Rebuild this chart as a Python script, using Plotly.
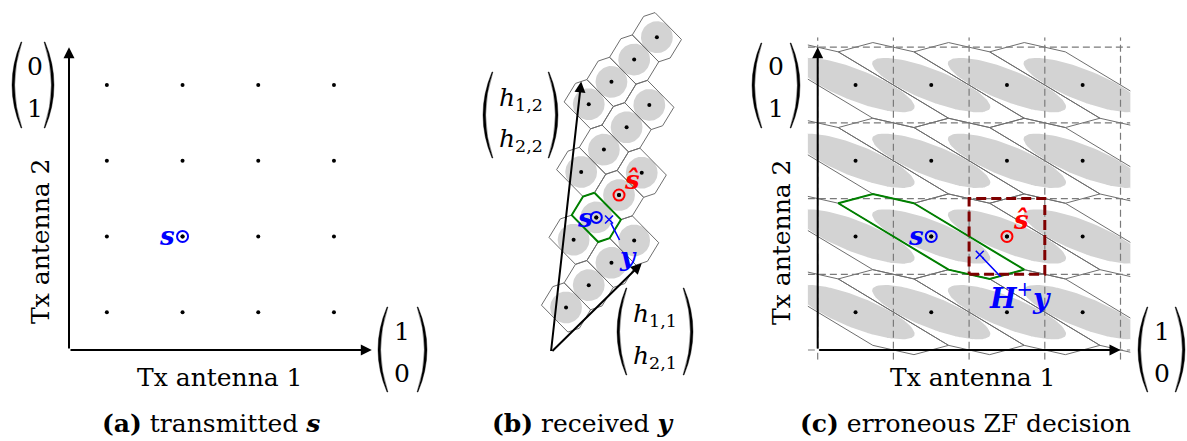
import numpy as np
import plotly.graph_objects as go

# ---------------- data ----------------
levels = [0.5, 1.5, 2.5, 3.5]            # PAM levels per Tx antenna
H = np.array([[0.300, 0.100],            # channel matrix, columns h1, h2
              [0.295, 0.895]])
s_tx = [1.5, 1.5]                        # transmitted symbol s
s_hat = [2.5, 1.5]                       # erroneous ZF decision
noise = [0.168, -0.028]                  # noise realisation n
noise_radius = 0.21                      # radius of the noise disc
zf_grid = [0, 1, 2, 3, 4]                # ZF decision boundaries
axis_len = 4

# ---------------- geometry ----------------
W, HPX = 1187, 441
U = 75.7  # pixels per unit
FONT = "DejaVu Serif"
GRAY = "#d3d3d3"
HEX = "#6e6e6e"

Hinv = np.linalg.inv(H)
pts = np.array([[a, b] for b in levels for a in levels])
y_rx = H @ np.array(s_tx) + np.array(noise)
zf_est = Hinv @ y_rx

# Voronoi cell of lattice H*Z^2 around origin
def clip_poly(poly, n, c):
    out = []
    for i in range(len(poly)):
        P, Q = poly[i], poly[(i + 1) % len(poly)]
        pin, qin = P @ n <= c, Q @ n <= c
        if pin:
            out.append(P)
        if pin != qin:
            t = (c - P @ n) / ((Q - P) @ n)
            out.append(P + t * (Q - P))
    return np.array(out)

cell = np.array([[-5, -5], [5, -5], [5, 5], [-5, 5]], float)
for k1 in range(-3, 4):
    for k2 in range(-3, 4):
        if k1 == 0 and k2 == 0:
            continue
        v = H @ np.array([k1, k2], float)
        cell = clip_poly(cell, v, v @ v / 2)

theta = np.linspace(0, 2 * np.pi, 90)
circle = noise_radius * np.vstack([np.cos(theta), np.sin(theta)])

def closed(poly):
    return np.vstack([poly, poly[:1]])

def join(polys):
    xs, ys = [], []
    for p in polys:
        xs += list(p[:, 0]) + [None]
        ys += list(p[:, 1]) + [None]
    return dict(x=xs, y=ys)

# ---------------- axes layout ----------------
panel_origin = {"a": (69, 350), "b": (550.9, 352.5), "c": (817.7, 350)}
panel_px = {"a": (0, 440), "b": (445, 735), "c": (740, 1187)}
axname = {"a": ("x", "y"), "b": ("x2", "y2"), "c": ("x4", "y4"), "cc": ("x3", "y3")}

layout_axes = {}
def make_axes(key, ox, oy, x0, x1, y0, y1):
    xn, yn = axname[key]
    xk = "xaxis" + xn[1:]
    yk = "yaxis" + yn[1:]
    layout_axes[xk] = dict(domain=[x0 / W, x1 / W], range=[(x0 - ox) / U, (x1 - ox) / U],
                           visible=False, anchor=yn, fixedrange=True)
    layout_axes[yk] = dict(domain=[1 - y1 / HPX, 1 - y0 / HPX], range=[(oy - y1) / U, (oy - y0) / U],
                           visible=False, anchor=xn, fixedrange=True)

for k in "abc":
    ox, oy = panel_origin[k]
    make_axes(k, ox, oy, panel_px[k][0], panel_px[k][1], 0, HPX)
ox, oy = panel_origin["c"]
lo, hi = -0.13, axis_len + 0.13
make_axes("cc", ox, oy, ox + lo * U, ox + hi * U, oy - hi * U, oy - lo * U)

def U_(key, px, py):
    ox, oy = panel_origin[key]
    return (px - ox) / U, (oy - py) / U

fig = go.Figure()
def add(key, **kw):
    xn, yn = axname[key]
    fig.add_trace(go.Scatter(xaxis=xn, yaxis=yn, showlegend=False, hoverinfo="skip", **kw))

annotations = []
def text(key, px, py, t, size=25, color="black", angle=0):
    x, y = U_(key, px, py)
    xn, yn = axname[key]
    annotations.append(dict(x=x, y=y, xref=xn, yref=yn, text=t, showarrow=False,
                            font=dict(family=FONT, size=size, color=color),
                            textangle=angle, xanchor="center", yanchor="middle"))

def arrow(key, tail, head):
    xn, yn = axname[key]
    annotations.append(dict(x=head[0], y=head[1], ax=tail[0], ay=tail[1], xref=xn, yref=yn,
                            axref=xn, ayref=yn, text="", showarrow=True, arrowhead=2,
                            arrowsize=1.1, arrowwidth=2, arrowcolor="black", standoff=0, startstandoff=0))

def pin_label(key, pt, dx, dy, t, color, size=26):
    xn, yn = axname[key]
    annotations.append(dict(x=pt[0], y=pt[1], xref=xn, yref=yn, ax=dx, ay=dy, text=t,
                            showarrow=True, arrowhead=0, arrowwidth=1.6, arrowcolor=color,
                            font=dict(family=FONT, size=size, color=color), standoff=4))

def ring(key, p, color):
    add(key, x=[p[0]], y=[p[1]], mode="markers",
        marker=dict(symbol="circle-open", size=11, color=color, line=dict(width=2, color=color)))

shapes = []
def paren_pair(xl_mid, xl_end, xr_end, xr_mid, y0, y1, thick=2.6):
    for x_mid, x_end in [(xl_mid, xl_end), (xr_mid, xr_end)]:
        d = np.sign(x_mid - x_end)
        ym = (y0 + y1) / 2
        c_out = 2 * x_mid - x_end
        x_end_in = x_end - d * 0.9
        c_in = 2 * (x_mid - d * thick) - x_end_in
        P = lambda px, py: f"{px / W:.6f},{1 - py / HPX:.6f}"
        path = (f"M {P(x_end, y0)} Q {P(c_out, ym)} {P(x_end, y1)} "
                f"L {P(x_end_in, y1)} Q {P(c_in, ym)} {P(x_end_in, y0)} Z")
        shapes.append(dict(type="path", path=path, xref="paper", yref="paper",
                           fillcolor="black", line=dict(width=0.4, color="black")))

BS = "<b><i>s</i></b>"
BY = "<b><i>y</i></b>"
BSH = "<b><i>ŝ</i></b>"

# ---------------- panel (a) ----------------
add("a", x=pts[:, 0], y=pts[:, 1], mode="markers", marker=dict(size=4, color="black"))
ring("a", s_tx, "blue")
add("a", x=[s_tx[0]], y=[s_tx[1]], mode="markers", marker=dict(size=4, color="black"))
arrow("a", (0, 0), (axis_len, 0))
arrow("a", (0, 0), (0, axis_len))
text("a", 167, 236, BS, color="blue", size=26)
text("a", 220, 377, "Tx antenna 1")
text("a", 40, 241, "Tx antenna 2", angle=-90)
paren_pair(12, 21, 45, 54, 42, 128)
text("a", 34.5, 66, "0"); text("a", 34.5, 108, "1")
paren_pair(378, 387, 418, 427, 307, 392)
text("a", 402, 331, "1"); text("a", 402, 373, "0")
text("a", 211, 423, "<b>(a)</b> transmitted " + BS)

# ---------------- panel (b) ----------------
rx = (H @ pts.T).T
add("b", **join([closed((H @ p[:, None] + circle).T) for p in pts]),
    mode="lines", fill="toself", fillcolor=GRAY, line=dict(width=0, color=GRAY))
add("b", **join([closed(cell + r) for r in rx]), mode="lines", line=dict(width=1, color=HEX))
hs = H @ np.array(s_tx)
add("b", **join([closed(cell + hs)]), mode="lines", line=dict(width=2, color="green"))
add("b", x=rx[:, 0], y=rx[:, 1], mode="markers", marker=dict(size=4, color="black"))
hsh = H @ np.array(s_hat)
ring("b", hs, "blue")
ring("b", hsh, "red")
add("b", x=[hs[0], hsh[0]], y=[hs[1], hsh[1]], mode="markers", marker=dict(size=4, color="black"))
add("b", x=[y_rx[0]], y=[y_rx[1]], mode="markers",
    marker=dict(symbol="x-thin", size=8, color="blue", line=dict(width=1.5, color="blue")))
arrow("b", (0, 0), tuple(axis_len * H[:, 0]))
arrow("b", (0, 0), tuple(axis_len * H[:, 1]))
text("b", 585, 218, BS, color="blue", size=26)
text("b", 632, 180, BSH, color="red", size=26)
pin_label("b", y_rx, 19, 37, BY, "blue")
paren_pair(483, 492, 549, 558, 72, 158)
text("b", 521, 99, "<i>h</i><sub>1,2</sub>"); text("b", 521, 140, "<i>h</i><sub>2,2</sub>")
paren_pair(617, 626, 684, 693, 288, 375)
text("b", 655, 315, "<i>h</i><sub>1,1</sub>"); text("b", 655, 357, "<i>h</i><sub>2,1</sub>")
text("b", 583, 423, "<b>(b)</b> received " + BY)

# ---------------- panel (c) ----------------
for p in pts:
    e = closed((p[:, None] + Hinv @ circle).T)
    add("cc", x=e[:, 0], y=e[:, 1], mode="lines", fill="toself", fillcolor=GRAY,
        line=dict(width=1.6, color="white"))
cells_c = [closed(p + (Hinv @ cell.T).T) for p in pts]
add("cc", **join(cells_c), mode="lines", line=dict(width=1, color=HEX))
gx, gy = [], []
for g in zf_grid:
    gx += [lo, hi, None, g, g, None]
    gy += [g, g, None, lo, hi, None]
add("cc", x=gx, y=gy, mode="lines", line=dict(width=1.2, color="#7a7a7a", dash="7px,4px"))

add("c", x=pts[:, 0], y=pts[:, 1], mode="markers", marker=dict(size=4, color="black"))
gcell = closed(np.array(s_tx) + (Hinv @ cell.T).T)
add("c", x=gcell[:, 0], y=gcell[:, 1], mode="lines", line=dict(width=2, color="green"))
zx0, zy0 = np.floor(s_hat[0]), np.floor(s_hat[1])
add("c", x=[zx0, zx0 + 1, zx0 + 1, zx0, zx0], y=[zy0, zy0, zy0 + 1, zy0 + 1, zy0], mode="lines",
    line=dict(width=3, color="#7f0000", dash="10px,5px"))
ring("c", s_tx, "blue")
ring("c", s_hat, "red")
add("c", x=[s_tx[0], s_hat[0]], y=[s_tx[1], s_hat[1]], mode="markers", marker=dict(size=4, color="black"))
add("c", x=[zf_est[0]], y=[zf_est[1]], mode="markers",
    marker=dict(symbol="x-thin", size=8, color="blue", line=dict(width=1.5, color="blue")))
arrow("c", (0, 0), (axis_len, 0))
arrow("c", (0, 0), (0, axis_len))
text("c", 916, 236, BS, color="blue", size=26)
text("c", 1021, 220, BSH, color="red", size=26)
pin_label("c", zf_est, 40, 42, "<b><i>H</i></b><sup>+</sup>" + BY, "blue", size=28)
text("c", 973, 377, "Tx antenna 1")
text("c", 781, 242, "Tx antenna 2", angle=-90)
paren_pair(752, 761, 791, 800, 43, 128)
text("c", 776, 66, "0"); text("c", 776, 108, "1")
paren_pair(1138, 1147, 1176, 1185, 307, 392)
text("c", 1162, 331, "1"); text("c", 1162, 373, "0")
text("c", 965, 423, "<b>(c)</b> erroneous ZF decision")

fig.update_layout(width=W, height=HPX, margin=dict(l=0, r=0, t=0, b=0), autosize=False,
                  paper_bgcolor="white", plot_bgcolor="rgba(0,0,0,0)",
                  annotations=annotations, shapes=shapes, **layout_axes)
fig.write_html("out.html", config={"displayModeBar": False},
               post_script="document.body.style.margin='0';document.body.style.overflow='hidden';")
